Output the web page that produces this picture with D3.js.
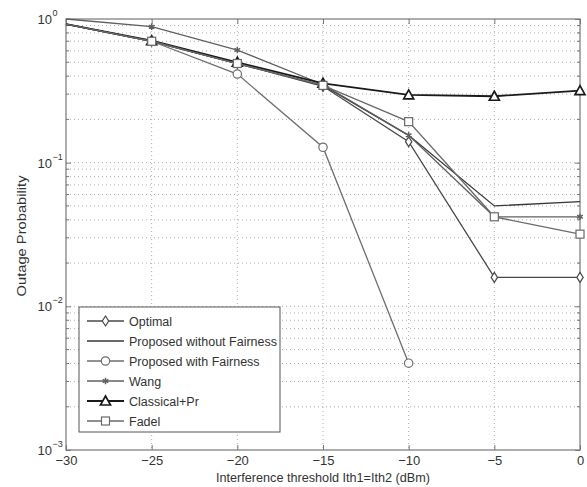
<!DOCTYPE html>
<html><head><meta charset="utf-8">
<script src="https://cdn.jsdelivr.net/npm/d3@7"></script>
<style>body{margin:0;background:#fff;}svg{display:block;font-family:"Liberation Sans",Arial,sans-serif;}</style>
</head><body>
<svg id="c" width="587" height="487"></svg>
<script>
const xValues = [-30, -25, -20, -15, -10, -5, 0];
const optimal = [0.92, 0.70, 0.49, 0.34, 0.140, 0.0159, 0.0159];
const proposedNoFair = [0.92, 0.70, 0.49, 0.345, 0.155, 0.050, 0.0535];
const proposedFair = [0.92, 0.70, 0.414, 0.128, 0.00402];
const wang = [1.0, 0.884, 0.608, 0.35, 0.155, 0.042, 0.042];
const classical = [0.92, 0.706, 0.50, 0.357, 0.296, 0.29, 0.317];
const fadel = [0.92, 0.70, 0.49, 0.345, 0.193, 0.042, 0.0318];
const seriesNames = ["Optimal", "Proposed without Fairness", "Proposed with Fairness", "Wang", "Classical+Pr", "Fadel"];
const xTicks = [-30, -25, -20, -15, -10, -5, 0];
const yExponents = [0, -1, -2, -3];

const series = [
  {name: seriesNames[0], values: optimal, marker: "diamond", color: "#484848", width: 1.3},
  {name: seriesNames[1], values: proposedNoFair, marker: "none", color: "#383838", width: 1.3},
  {name: seriesNames[2], values: proposedFair, marker: "circle", color: "#6e6e6e", width: 1.3},
  {name: seriesNames[3], values: wang, marker: "star", color: "#606060", width: 1.3},
  {name: seriesNames[4], values: classical, marker: "triangle", color: "#1a1a1a", width: 1.8},
  {name: seriesNames[5], values: fadel, marker: "square", color: "#6a6a6a", width: 1.3}
];

const svg = d3.select("#c");
const L = 66, R = 580, T = 19, B = 450;
const x = d3.scaleLinear().domain([-30, 0]).range([L, R]);
const y = d3.scaleLog().domain([1e-3, 1]).range([B, T]);

// grid
const grid = svg.append("g");
xTicks.forEach(t => {
  if (t === -30 || t === 0) return;
  grid.append("line").attr("x1", x(t)).attr("x2", x(t)).attr("y1", T).attr("y2", B)
    .attr("stroke", "#999").attr("stroke-width", 0.8).attr("stroke-dasharray", "1,3");
});
const minor = [];
for (let e = -3; e < 0; e++) for (let m = 1; m <= 9; m++) minor.push(m * Math.pow(10, e));
minor.forEach(v => {
  if (v <= 1e-3 || v >= 1) return;
  grid.append("line").attr("x1", L).attr("x2", R).attr("y1", y(v)).attr("y2", y(v))
    .attr("stroke", "#999").attr("stroke-width", 0.8).attr("stroke-dasharray", "1,3");
});

// axes
const axisColor = "#777";
const xa = svg.append("g").attr("transform", `translate(0,${B})`)
  .call(d3.axisBottom(x).tickValues(xTicks).tickSize(-5).tickPadding(6).tickFormat(d => d === 0 ? "0" : "\u2212" + Math.abs(d)));
xa.select(".domain").remove();
xa.selectAll("line").attr("stroke", axisColor);
xa.selectAll("text").attr("font-size", 13).attr("fill", "#333");
const xt = svg.append("g").attr("transform", `translate(0,${T})`)
  .call(d3.axisTop(x).tickValues(xTicks).tickSize(-5).tickFormat(""));
xt.select(".domain").remove();
xt.selectAll("line").attr("stroke", axisColor);

const ya = svg.append("g").attr("transform", `translate(${L},0)`)
  .call(d3.axisLeft(y).tickValues(yExponents.map(e => Math.pow(10, e))).tickSize(-5).tickFormat(""));
ya.select(".domain").remove();
ya.selectAll("line").attr("stroke", axisColor);
const yr = svg.append("g").attr("transform", `translate(${R},0)`)
  .call(d3.axisRight(y).tickValues(yExponents.map(e => Math.pow(10, e))).tickSize(-5).tickFormat(""));
yr.select(".domain").remove();
yr.selectAll("line").attr("stroke", axisColor);
// minor ticks
[[L, 3], [R, -3]].forEach(([xx, d]) => {
  minor.forEach(v => {
    if (v <= 1e-3 || v >= 1 || [0.01, 0.1].some(q => Math.abs(q - v) < 1e-9)) return;
    svg.append("line").attr("x1", xx).attr("x2", xx + d).attr("y1", y(v)).attr("y2", y(v)).attr("stroke", axisColor);
  });
});

yExponents.forEach(e => {
  svg.append("text").attr("x", 52).attr("y", y(Math.pow(10, e)) + 5)
    .attr("text-anchor", "end").attr("font-size", 13).attr("fill", "#333").text("10");
  svg.append("text").attr("x", 52.5).attr("y", y(Math.pow(10, e)) - 3)
    .attr("font-size", 9).attr("fill", "#333").text(e === 0 ? "0" : "\u2212" + Math.abs(e));
});

svg.append("rect").attr("x", L).attr("y", T).attr("width", R - L).attr("height", B - T)
  .attr("fill", "none").attr("stroke", axisColor).attr("stroke-width", 1.2);

// labels
svg.append("text").attr("x", (L + R) / 2).attr("y", 482).attr("text-anchor", "middle")
  .attr("font-size", 13).attr("textLength", 214).attr("lengthAdjust", "spacingAndGlyphs")
  .attr("fill", "#333").text("Interference threshold Ith1=Ith2 (dBm)");
svg.append("text").attr("transform", `translate(26,236) rotate(-90)`).attr("text-anchor", "middle")
  .attr("font-size", 13).attr("textLength", 121).attr("lengthAdjust", "spacingAndGlyphs")
  .attr("fill", "#333").text("Outage Probability");

function drawMarker(g, type, cx, cy, color) {
  if (type === "diamond") {
    g.append("path").attr("d", `M${cx},${cy - 5}L${cx + 3.2},${cy}L${cx},${cy + 5}L${cx - 3.2},${cy}Z`)
      .attr("fill", "#fff").attr("stroke", color).attr("stroke-width", 1.2);
  } else if (type === "circle") {
    g.append("circle").attr("cx", cx).attr("cy", cy).attr("r", 4.2).attr("fill", "#fff").attr("stroke", color).attr("stroke-width", 1.2);
  } else if (type === "square") {
    const s = 4;
    g.append("rect").attr("x", cx - s).attr("y", cy - s).attr("width", 2 * s).attr("height", 2 * s)
      .attr("fill", "#fff").attr("stroke", color).attr("stroke-width", 1.2);
  } else if (type === "triangle") {
    g.append("path").attr("d", `M${cx},${cy - 5}L${cx + 5},${cy + 4}L${cx - 5},${cy + 4}Z`)
      .attr("fill", "#fff").attr("stroke", color).attr("stroke-width", 1.7);
  } else if (type === "star") {
    g.append("path").attr("d", d3.symbol(d3.symbolAsterisk, 30)()).attr("transform", `translate(${cx},${cy})`)
      .attr("fill", "none").attr("stroke", color).attr("stroke-width", 1.5);
  }
}

const line = d3.line().x((d, i) => x(xValues[i])).y(d => y(d));
const plotG = svg.append("g");
series.forEach(s => {
  plotG.append("path").attr("d", line(s.values)).attr("fill", "none").attr("stroke", s.color).attr("stroke-width", s.width);
  if (s.marker !== "none") s.values.forEach((v, i) => { if (i > 0) drawMarker(plotG, s.marker, x(xValues[i]), y(v), s.color); });
});

// legend
const lg = svg.append("g");
lg.append("rect").attr("x", 79).attr("y", 307).attr("width", 201).attr("height", 125)
  .attr("fill", "#fff").attr("stroke", "#555").attr("stroke-width", 1);
series.forEach((s, i) => {
  const yy = 321 + i * 20;
  lg.append("line").attr("x1", 87).attr("x2", 124).attr("y1", yy).attr("y2", yy).attr("stroke", s.color).attr("stroke-width", s.width);
  if (s.marker !== "none") drawMarker(lg, s.marker, 105.5, yy, s.color);
  lg.append("text").attr("x", 129).attr("y", yy + 4.5).attr("font-size", 12.5).attr("fill", "#333").text(s.name);
});
</script>
</body></html>
